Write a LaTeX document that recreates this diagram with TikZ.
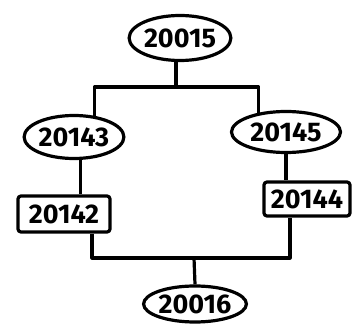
\documentclass[tikz,border=0pt]{standalone}
\usepackage{fontspec}
\setmainfont{Fira Sans}
\usetikzlibrary{shapes.geometric}
\begin{document}
\begin{tikzpicture}[x=1pt,y=-1pt,
  every node/.style={font=\fontsize{27}{29}\selectfont\bfseries},
  oval/.style={ellipse,draw,line width=3.2pt,inner sep=0pt},
  boxed/.style={rectangle,draw,line width=3.2pt,rounded corners=3pt,inner sep=0pt},
  link/.style={line width=3.2pt,line join=round}]
\useasboundingbox (0,0) rectangle (360,334);
\node[oval,minimum width=93pt,minimum height=45pt] (t) at (180,38) {20015};
\node[oval,minimum width=92pt,minimum height=43pt] (a) at (74,137) {20143};
\node[oval,minimum width=109pt,minimum height=41pt] (b) at (286,132) {20145};
\node[boxed,minimum width=92pt,minimum height=36pt] (c) at (64,214) {20142};
\node[boxed,minimum width=86pt,minimum height=34pt] (d) at (307,199) {20144};
\node[oval,minimum width=86pt,minimum height=36pt] (e) at (195,304) {20016};
\coordinate (j1) at (176,87);
\coordinate (j2) at (194,258);
\draw[link] (t.south -| j1) -- (j1);
\draw[link] (a.46) |- (j1) -| (b.145);
\draw[link] (a.-74) -- (a.-74 |- c.north);
\draw[link] (b.south) -- (b.south |- d.north);
\draw[link] ([xshift=28pt]c.south) |- (j2) -| ([xshift=-17pt]d.south);
\draw[link] (j2) -- (e.north);
\end{tikzpicture}
\end{document}
